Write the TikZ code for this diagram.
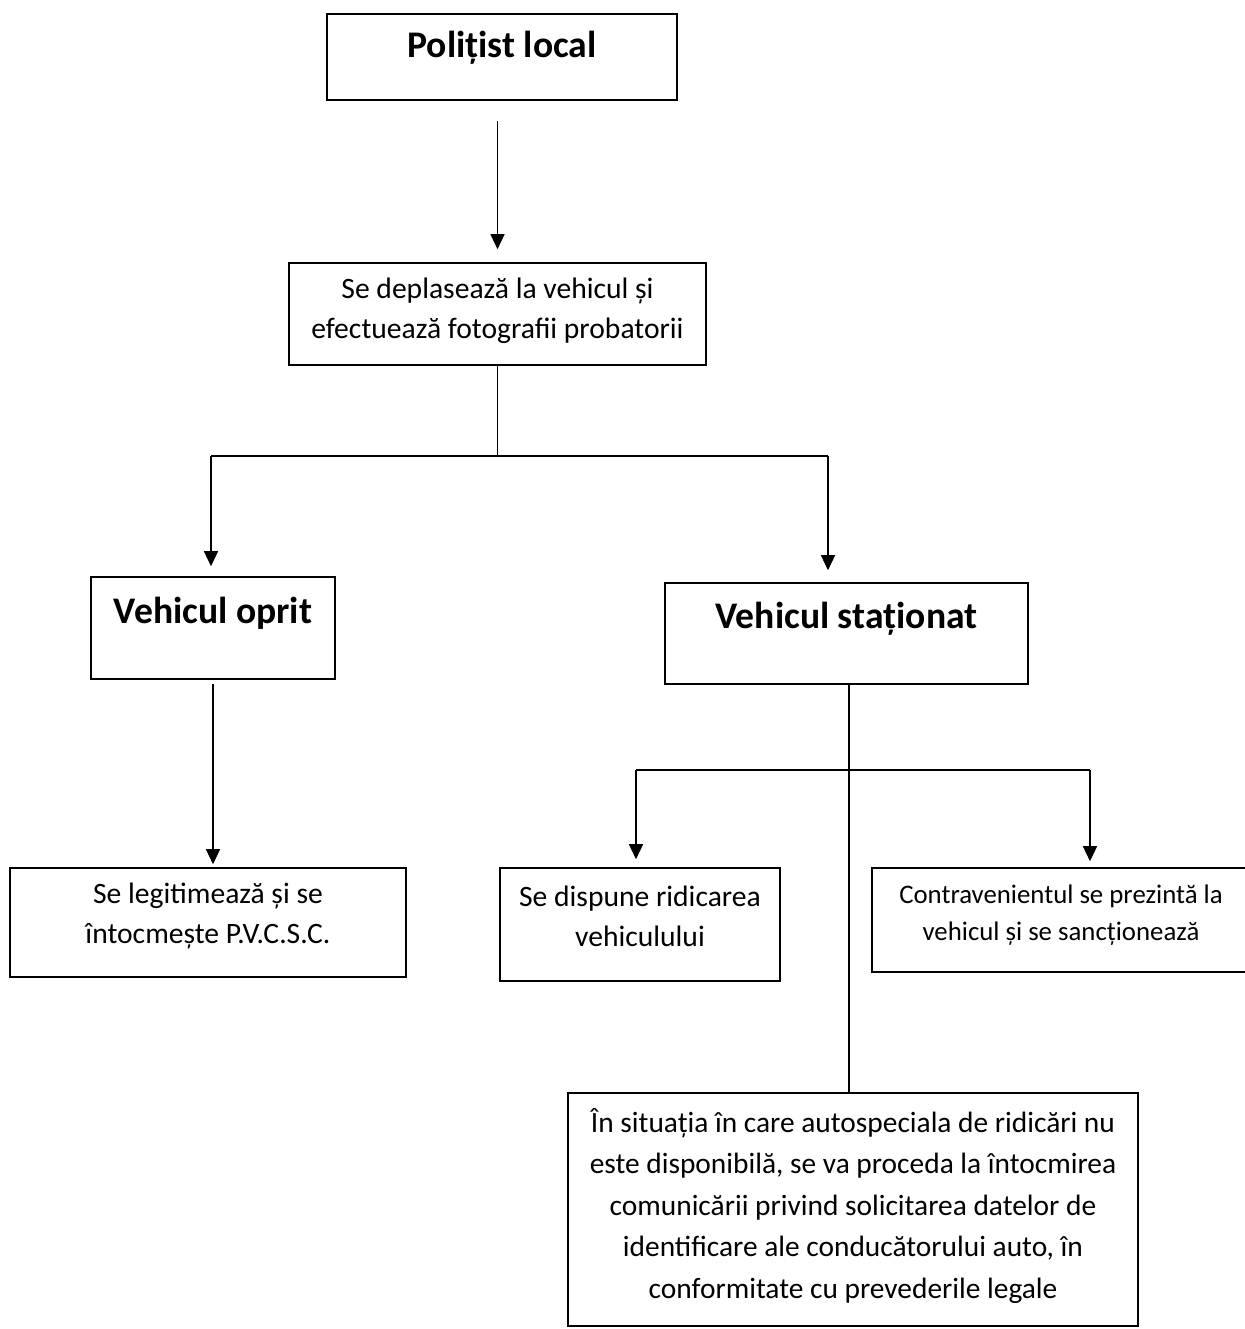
\documentclass[tikz,border=0pt]{standalone}
\usepackage{fontspec}
\setmainfont{Carlito}
\usetikzlibrary{arrows.meta}

\tikzset{box/.style={draw,line width=0.8pt,inner sep=0pt,align=center,text depth=0pt},
head/.style={box,font=\fontsize{18.8}{22}\selectfont\bfseries},
body/.style={box,font=\fontsize{14.8}{20}\selectfont},
small body/.style={box,font=\fontsize{13.4}{18.5}\selectfont},
long body/.style={box,font=\fontsize{14.7}{20.75}\selectfont},
arr/.style={line width=0.7pt,-{Triangle[width=7pt,length=7.5pt]}},
link/.style={line width=0.7pt}}

\begin{document}
\begin{tikzpicture}[x=0.5pt,y=-0.5pt]
\useasboundingbox (0,0) rectangle (1244,1329);

%% boxes
\node [head,minimum width=175pt,minimum height=43pt,text height=0pt] (politist) at (502,57) {Polițist local};
\node [body,minimum width=208.5pt,minimum height=51pt,text height=24pt] (deplaseaza) at (497.5,314) {Se deplasează la vehicul și\\efectuează fotografii probatorii};
\node [head,minimum width=122pt,minimum height=51pt,text height=0pt,text depth=5pt] (oprit) at (213,628) {Vehicul oprit};
\node [head,minimum width=181.5pt,minimum height=50.5pt,text height=0pt,text depth=5.5pt] (stationat) at (846.5,633.5) {Vehicul staționat};
\node [body,minimum width=198pt,minimum height=54.5pt,text height=20.5pt] (legitimeaza) at (208,922.5) {Se legitimează și se\\întocmește P.V.C.S.C.};
\node [body,minimum width=140pt,minimum height=56.5pt,text height=21.5pt] (dispune) at (640,924.5) {Se dispune ridicarea\\vehiculului};
\node [small body,minimum width=189pt,minimum height=52pt,text height=20pt] (contravenient) at (1061,920) {Contravenientul se prezintă la\\vehicul și se sancționează};
\node [long body,minimum width=285pt,minimum height=116.5pt,text height=88.5pt] (situatia) at (853,1209.5) {În situația în care autospeciala de ridicări nu\\este disponibilă, se va proceda la întocmirea\\comunicării privind solicitarea datelor de\\identificare ale conducătorului auto, în\\conformitate cu prevederile legale};

%% junctions
\coordinate (split1) at (497.5,456);
\coordinate (dropl) at (211,456);
\coordinate (dropr) at (828,456);
\coordinate (split2) at (849,770);
\coordinate (dropd) at (636,770);
\coordinate (dropc) at (1090,770);

%% connectors
\draw [arr,shorten <=10pt,shorten >=6.5pt] (politist.south -| deplaseaza.center) -- (deplaseaza.north);
\draw [link] (deplaseaza.south) -- (split1);
\draw [link] (dropl) -- (dropr);
\draw [arr,shorten >=5pt] (dropl) -- (dropl |- oprit.north);
\draw [arr,shorten >=6pt] (dropr) -- (dropr |- stationat.north);
\draw [arr,shorten <=2pt,shorten >=1.5pt] (oprit.south) -- (oprit.south |- legitimeaza.north);
\draw [link] (split2 |- stationat.south) -- (split2 |- situatia.north);
\draw [link] (dropd) -- (dropc);
\draw [arr,shorten >=4pt] (dropd) -- (dropd |- dispune.north);
\draw [arr,shorten >=3pt] (dropc) -- (dropc |- contravenient.north);

\end{tikzpicture}
\end{document}
